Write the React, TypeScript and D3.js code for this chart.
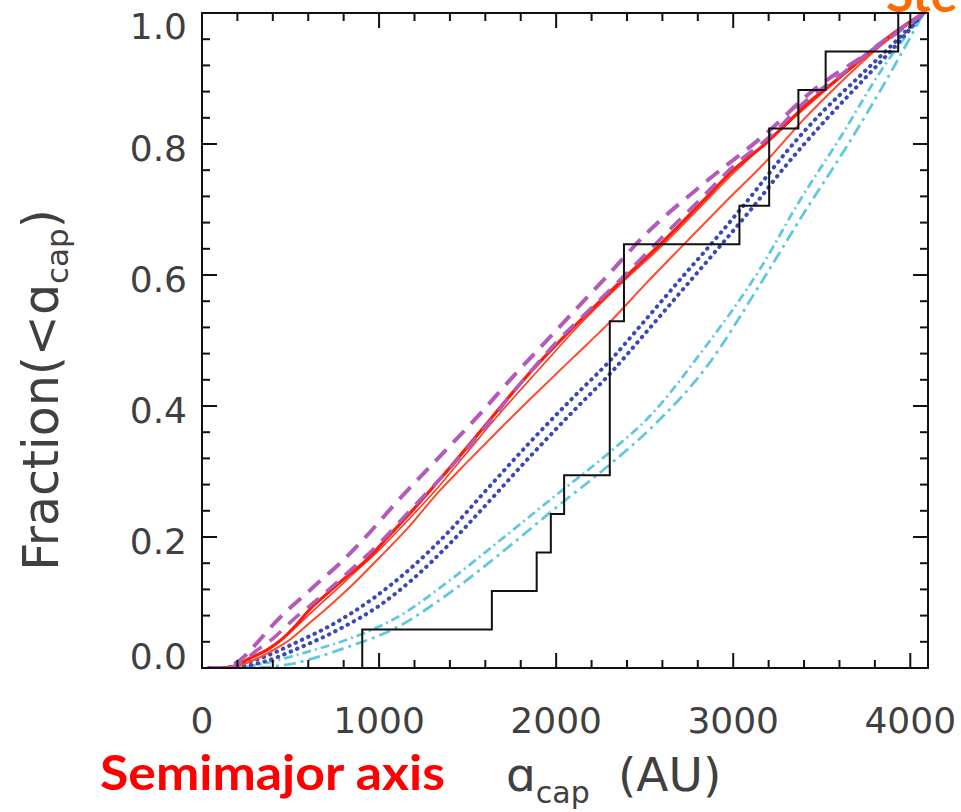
import React from "react";
import * as d3 from "d3";

const W = 961;
const H = 812;

// Observed sample (semimajor axes in AU), 17 objects
const observed = [905, 1637, 1890, 1970, 2045, 2303, 2303, 2303, 2303, 2383, 2383, 3035, 3203, 3203, 3368, 3522, 3932];

const purpleUpper: [number, number][] = [
  [40, 0], [120, 0], [215, 0.012], [316, 0.04], [384, 0.061], [470, 0.085], [565, 0.108], [655, 0.13],
  [780, 0.16], [900, 0.193], [1105, 0.255], [1318, 0.316], [1557, 0.384], [1740, 0.44], [1957, 0.503],
  [2276, 0.595], [2516, 0.665], [2835, 0.74], [3194, 0.818], [3447, 0.881], [3767, 0.94], [3900, 0.965], [4075, 1.0],
];
const purpleLower: [number, number][] = [
  [40, 0], [130, 0], [220, 0.008], [300, 0.025], [400, 0.045], [520, 0.075], [640, 0.102], [800, 0.14],
  [1000, 0.19], [1200, 0.248], [1400, 0.305], [1600, 0.368], [1800, 0.435], [2000, 0.497], [2200, 0.55],
  [2400, 0.603], [2600, 0.658], [2830, 0.72], [3000, 0.766], [3200, 0.81], [3420, 0.868], [3600, 0.904],
  [3800, 0.948], [4075, 1.0],
];
const redThick: [number, number][] = [
  [40, 0], [100, 0], [175, 0.002], [270, 0.015], [370, 0.028], [460, 0.046], [540, 0.068], [610, 0.09],
  [700, 0.112], [820, 0.14], [930, 0.165], [1050, 0.2], [1160, 0.232], [1340, 0.287], [1500, 0.338],
  [1660, 0.39], [1800, 0.435], [1900, 0.465], [2090, 0.518], [2380, 0.594], [2600, 0.65], [2830, 0.713],
  [3000, 0.76], [3180, 0.8], [3290, 0.828], [3420, 0.862], [3580, 0.897], [3770, 0.94], [3920, 0.972], [4075, 1.0],
];
const redThin: [number, number][] = [
  [40, 0], [110, 0], [190, 0.004], [290, 0.017], [390, 0.032], [480, 0.05], [560, 0.07], [650, 0.093],
  [760, 0.12], [880, 0.15], [1000, 0.18], [1150, 0.222], [1340, 0.278], [1500, 0.33], [1660, 0.382],
  [1800, 0.425], [1950, 0.47], [2100, 0.515], [2380, 0.59], [2600, 0.645], [2830, 0.708], [3000, 0.755],
  [3200, 0.805], [3420, 0.858], [3600, 0.9], [3800, 0.945], [4075, 1.0],
];
const redLower: [number, number][] = [
  [40, 0], [120, 0], [200, 0.003], [300, 0.013], [400, 0.027], [500, 0.044], [600, 0.067], [700, 0.09],
  [850, 0.127], [1000, 0.168], [1150, 0.21], [1340, 0.27], [1500, 0.315], [1664, 0.36], [1900, 0.423],
  [2100, 0.475], [2303, 0.528], [2500, 0.585], [2730, 0.649], [2950, 0.71], [3180, 0.772], [3400, 0.838],
  [3580, 0.887], [3820, 0.947], [4075, 1.0],
];
const blueUpper: [number, number][] = [
  [40, 0], [100, 0], [300, 0.012], [540, 0.04], [760, 0.07], [970, 0.107], [1190, 0.155], [1400, 0.21],
  [1600, 0.27], [1850, 0.344], [2100, 0.414], [2300, 0.468], [2500, 0.53], [2700, 0.593], [2900, 0.655],
  [3100, 0.72], [3300, 0.788], [3500, 0.848], [3700, 0.9], [3900, 0.952], [4075, 1.0],
];
const blueLower: [number, number][] = [
  [40, 0], [130, 0], [330, 0.008], [560, 0.032], [780, 0.06], [1000, 0.095], [1200, 0.138], [1400, 0.19],
  [1600, 0.248], [1850, 0.322], [2100, 0.393], [2300, 0.448], [2500, 0.51], [2700, 0.573], [2900, 0.636],
  [3100, 0.7], [3300, 0.768], [3500, 0.83], [3700, 0.888], [3900, 0.945], [4075, 1.0],
];
const cyanUpper: [number, number][] = [
  [40, 0], [150, 0], [400, 0.01], [600, 0.025], [836, 0.045], [1119, 0.08], [1400, 0.134], [1684, 0.195],
  [2000, 0.264], [2305, 0.33], [2531, 0.385], [2814, 0.48], [3153, 0.61], [3379, 0.715], [3605, 0.81],
  [3830, 0.91], [4075, 1.0],
];
const cyanLower: [number, number][] = [
  [40, 0], [250, 0], [500, 0.006], [800, 0.03], [1100, 0.062], [1400, 0.115], [1700, 0.178], [2000, 0.245],
  [2300, 0.31], [2550, 0.37], [2850, 0.46], [3150, 0.585], [3400, 0.695], [3650, 0.8], [3870, 0.9], [4075, 1.0],
];

const xTicks = [0, 1000, 2000, 3000, 4000];
const yTicks = [0, 0.2, 0.4, 0.6, 0.8, 1.0];
const yTickLabels = ["0.0", "0.2", "0.4", "0.6", "0.8", "1.0"];

export default function App() {
  const x = d3.scaleLinear().domain([0, 4100]).range([202, 928]);
  const y = d3.scaleLinear().domain([0, 1]).range([668, 13]);
  const line = d3.line<[number, number]>().x((d) => x(d[0])).y((d) => y(d[1])).curve(d3.curveMonotoneX);

  const n = observed.length;
  const stepPts: [number, number][] = [[observed[0], 0], ...observed.map((v, i) => [v, (i + 1) / n] as [number, number]), [4100, 1]];
  const step = d3.line<[number, number]>().x((d) => x(d[0])).y((d) => y(d[1])).curve(d3.curveStepAfter);

  const xMinor = d3.range(0, 4001, 200);
  const yMinor = d3.range(0, 1.0001, 0.04);
  const [x0, x1] = x.range();
  const [yb, yt] = y.range();
  const textColor = "#404040";
  const font = "DejaVu Sans, sans-serif";

  return (
    <svg width={W} height={H} style={{ position: "absolute", left: 0, top: 0, background: "#fff" }}>
      <defs>
        <clipPath id="plot">
          <rect x={x0} y={yt} width={x1 - x0} height={yb - yt} />
        </clipPath>
      </defs>
      <rect width={W} height={H} fill="#fff" />
      <g clipPath="url(#plot)" fill="none">
        <path d={line(cyanLower)!} stroke="#62c8dd" strokeWidth={2.8} strokeDasharray="12 5 3 5" />
        <path d={line(cyanUpper)!} stroke="#62c8dd" strokeWidth={2.8} strokeDasharray="9 4 2 4" />
        <path d={line(blueLower)!} stroke="#3b49b8" strokeWidth={4} strokeDasharray="0.5 6.5" strokeLinecap="round" />
        <path d={line(blueUpper)!} stroke="#3b49b8" strokeWidth={4} strokeDasharray="0.5 6.5" strokeLinecap="round" />
        <path d={line(redLower)!} stroke="#ff4a2c" strokeWidth={2} />
        <path d={line(redThin)!} stroke="#ff3a22" strokeWidth={1.6} />
        <path d={line(redThick)!} stroke="#ff1a0a" strokeWidth={3.2} />
        <path d={line(purpleLower)!} stroke="#b25bb9" strokeWidth={3.5} strokeDasharray="15 10" strokeDashoffset={6} />
        <path d={line(purpleUpper)!} stroke="#b25bb9" strokeWidth={4} strokeDasharray="16 10" />
        <path d={step(stepPts)!} stroke="#111" strokeWidth={2} />
      </g>
      <rect x={x0} y={yt} width={x1 - x0} height={yb - yt} fill="none" stroke="#111" strokeWidth={2} />
      {xMinor.map((v) => {
        const major = v % 1000 === 0;
        const len = major ? 15 : 8;
        return (
          <g key={"xt" + v} stroke="#111" strokeWidth={2}>
            <line x1={x(v)} x2={x(v)} y1={yb} y2={yb - len} />
            <line x1={x(v)} x2={x(v)} y1={yt} y2={yt + len} />
          </g>
        );
      })}
      {yMinor.map((v, i) => {
        const major = i % 5 === 0;
        const len = major ? 15 : 8;
        return (
          <g key={"yt" + i} stroke="#111" strokeWidth={2}>
            <line x1={x0} x2={x0 + len} y1={y(v)} y2={y(v)} />
            <line x1={x1} x2={x1 - len} y1={y(v)} y2={y(v)} />
          </g>
        );
      })}
      {xTicks.map((v) => (
        <text key={"xl" + v} x={x(v)} y={733} textAnchor="middle" fontSize={36} fontFamily={font} fill={textColor}>
          {v}
        </text>
      ))}
      {yTicks.map((v, i) => {
        let by = y(v) + 17;
        if (i === 0) by = 669;
        if (i === yTicks.length - 1) by = 39;
        return (
          <text key={"yl" + i} x={187} y={by} textAnchor="end" fontSize={36} fontFamily={font} fill={textColor}>
            {yTickLabels[i]}
          </text>
        );
      })}
      <text transform="translate(58,390) rotate(-90)" textAnchor="middle" fontSize={49} fontFamily={font} fill={textColor}>
        Fraction(&lt;ɑ<tspan fontSize={31} dy={10}>cap</tspan><tspan dy={-10}>)</tspan>
      </text>
      <text x={506} y={791} fontSize={47} fontFamily={font} fill={textColor}>
        ɑ<tspan fontSize={30} dy={12}>cap</tspan>
      </text>
      <text x={618} y={791} fontSize={47} fontFamily={font} fill={textColor}>(AU)</text>
      <text x={100} y={790} fontSize={47} fontWeight="bold" fontFamily="Lato, sans-serif" fill="#ff0000" textLength={345} lengthAdjust="spacingAndGlyphs">
        Semimajor axis
      </text>
      <text x={886} y={12} fontSize={50} fontWeight="bold" fontFamily="Lato, sans-serif" fill="#ff6a00">
        Ste
      </text>
    </svg>
  );
}
